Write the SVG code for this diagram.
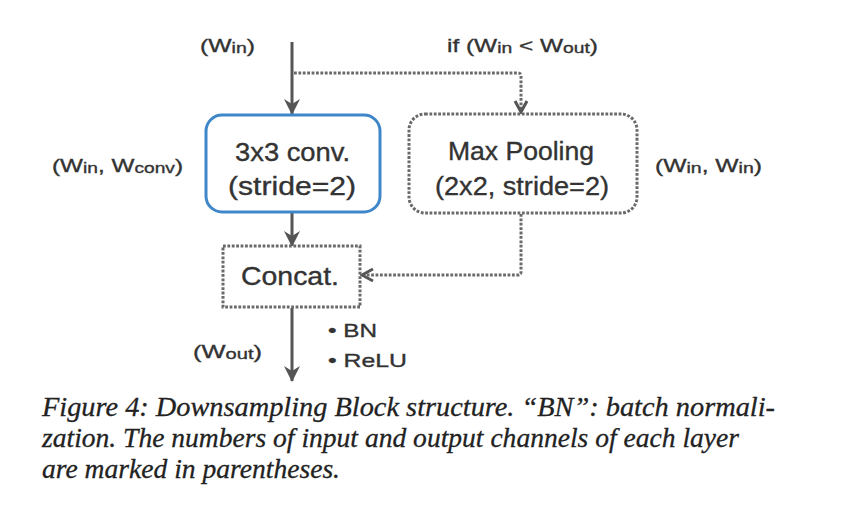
<svg xmlns="http://www.w3.org/2000/svg" width="862" height="510" viewBox="0 0 862 510">
<defs>
<style>
.t{font-family:"Liberation Sans",Arial,sans-serif;fill:#333;stroke:#333;stroke-width:0.35;}
.big{font-size:25px;}
.lab{font-size:19px;}
.sub{font-size:15px;}
.cap{font-family:"Liberation Serif","Times New Roman",serif;font-style:italic;font-size:28px;fill:#222;stroke:#222;stroke-width:0.3;}
.solid{stroke:#555;stroke-width:3;fill:none;}
.dot{stroke:#6a6a6a;stroke-width:3;stroke-dasharray:2.8 1.6;fill:none;}
</style>
<marker id="ah" viewBox="0 0 16 16" refX="15" refY="8" markerWidth="16" markerHeight="16" orient="auto" markerUnits="userSpaceOnUse">
<path d="M0,0 L16,8 L0,16 L5,8 z" fill="#555"/>
</marker>
<marker id="oh" viewBox="0 0 16 16" refX="13" refY="8" markerWidth="16" markerHeight="16" orient="auto" markerUnits="userSpaceOnUse">
<path d="M2,2 L13,8 L2,14" fill="none" stroke="#555" stroke-width="3"/>
</marker>
</defs>
<rect width="862" height="510" fill="#fff"/>
<g id="connectors">
<path class="solid" d="M292,42 L292,114" marker-end="url(#ah)"/>
<path class="dot" d="M294,73 L518,73 Q521,73 521,76 L521,112" marker-end="url(#oh)"/>
<path class="solid" d="M292,213 L292,246" marker-end="url(#ah)"/>
<path class="dot" d="M521,214 L521,272 Q521,275 518,275 L362,275" marker-end="url(#oh)"/>
<path class="solid" d="M292,308 L292,381" marker-end="url(#ah)"/>
</g>
<g id="conv">
<rect x="206" y="115" width="174" height="97" rx="16" fill="#fff" stroke="#3f87c9" stroke-width="3"/>
<text class="t big" x="235" y="161" textLength="115" lengthAdjust="spacingAndGlyphs">3x3 conv.</text>
<text class="t big" x="228" y="195" textLength="128" lengthAdjust="spacingAndGlyphs">(stride=2)</text>
</g>
<g id="maxpool">
<rect x="409" y="114" width="228" height="99" rx="16" fill="#fff" stroke="#6a6a6a" stroke-width="3" stroke-dasharray="2.8 1.6"/>
<text class="t big" x="448" y="160" textLength="146" lengthAdjust="spacingAndGlyphs">Max Pooling</text>
<text class="t big" x="435" y="195" textLength="174" lengthAdjust="spacingAndGlyphs">(2x2, stride=2)</text>
</g>
<g id="concat">
<rect x="223" y="246" width="137" height="61" fill="#fff" stroke="#6a6a6a" stroke-width="3" stroke-dasharray="2.8 1.6"/>
<text class="t big" x="241" y="285" textLength="98" lengthAdjust="spacingAndGlyphs">Concat.</text>
</g>
<g id="labels">
<text class="t lab" x="200" y="52" textLength="55" lengthAdjust="spacingAndGlyphs">(W<tspan class="sub" dy="1">in</tspan><tspan dy="-1">)</tspan></text>
<text class="t lab" x="447" y="52" textLength="151" lengthAdjust="spacingAndGlyphs">if (W<tspan class="sub" dy="1">in</tspan><tspan dy="-1"> &lt; W</tspan><tspan class="sub" dy="1">out</tspan><tspan dy="-1">)</tspan></text>
<text class="t lab" x="52" y="172" textLength="131" lengthAdjust="spacingAndGlyphs">(W<tspan class="sub" dy="1">in</tspan><tspan dy="-1">, W</tspan><tspan class="sub" dy="1">conv</tspan><tspan dy="-1">)</tspan></text>
<text class="t lab" x="655" y="172" textLength="107" lengthAdjust="spacingAndGlyphs">(W<tspan class="sub" dy="1">in</tspan><tspan dy="-1">, W</tspan><tspan class="sub" dy="1">in</tspan><tspan dy="-1">)</tspan></text>
<text class="t lab" x="193" y="358" textLength="69" lengthAdjust="spacingAndGlyphs">(W<tspan class="sub" dy="1">out</tspan><tspan dy="-1">)</tspan></text>
<text class="t lab" x="328" y="337" textLength="49" lengthAdjust="spacingAndGlyphs">• BN</text>
<text class="t lab" x="328" y="367" textLength="79" lengthAdjust="spacingAndGlyphs">• ReLU</text>
</g>
<g id="caption">
<text class="cap" x="42" y="416" textLength="733" lengthAdjust="spacingAndGlyphs">Figure 4: Downsampling Block structure. “BN”: batch normali-</text>
<text class="cap" x="42" y="447" textLength="697" lengthAdjust="spacingAndGlyphs">zation. The numbers of input and output channels of each layer</text>
<text class="cap" x="42" y="478" textLength="298" lengthAdjust="spacingAndGlyphs">are marked in parentheses.</text>
</g>
</svg>
